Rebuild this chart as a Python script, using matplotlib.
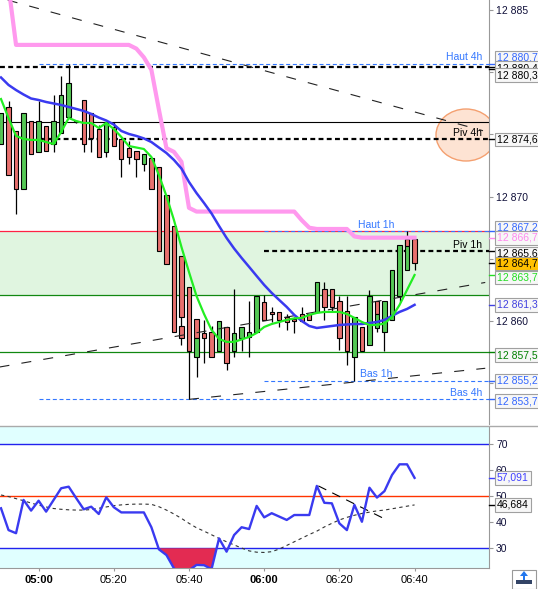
import numpy as np
import matplotlib
matplotlib.use("Agg")
from matplotlib import pyplot as plt
from matplotlib.patches import Rectangle, Ellipse, Polygon
from matplotlib.lines import Line2D

plt.rcParams['font.family'] = ['Liberation Sans', 'DejaVu Sans']

#========== Data ==========#
# 2 minute bars, index 0 = 04:50 ... index 55 = 06:40
opens = [12874.2, 12877.2, 12875.3, 12870.6, 12876.1, 12873.6, 12875.7, 12874.2, 12875.1, 12876.4,
         12876.1, 12877.8, 12876.7, 12875.4, 12873.6, 12875.6, 12874.6, 12873.9, 12873.7, 12872.6,
         12873.1, 12872.4, 12870.1, 12867.6, 12865.2, 12862.7, 12860.2, 12859.0, 12859.1, 12857.6,
         12859.5, 12857.6, 12858.6, 12858.7, 12859.1, 12861.5, 12860.7, 12860.7, 12860.3, 12860.2,
         12860.6, 12860.6, 12860.7, 12862.6, 12862.6, 12861.6, 12860.8, 12857.1, 12859.5, 12858.1,
         12861.6, 12859.1, 12860.1, 12862.0, 12864.1, 12866.6]
closes = [12876.7, 12871.7, 12870.6, 12876.7, 12873.4, 12876.1, 12873.7, 12876.1, 12878.2, 12879.1,
          12876.0, 12874.2, 12874.7, 12873.2, 12876.0, 12874.1, 12873.0, 12873.2, 12873.0, 12873.4,
          12870.6, 12865.6, 12864.6, 12859.1, 12860.3, 12857.6, 12858.6, 12858.6, 12857.1, 12860.0,
          12856.6, 12859.0, 12859.5, 12859.1, 12862.0, 12860.1, 12860.6, 12860.1, 12859.9, 12860.0,
          12860.0, 12860.1, 12863.1, 12861.1, 12861.1, 12858.6, 12857.6, 12860.3, 12857.6, 12862.0,
          12860.6, 12861.6, 12864.1, 12866.1, 12866.6, 12864.7]
highs = [12876.7, 12877.7, 12875.3, 12876.7, 12876.1, 12877.7, 12875.7, 12878.2, 12879.7, 12880.7,
         12876.2, 12877.8, 12876.7, 12875.8, 12876.0, 12876.0, 12874.6, 12874.5, 12873.7, 12873.4,
         12873.1, 12872.4, 12870.1, 12867.6, 12865.2, 12862.7, 12860.2, 12860.1, 12859.6, 12860.0,
         12859.5, 12862.6, 12859.5, 12861.6, 12862.0, 12862.1, 12861.1, 12860.7, 12860.6, 12860.3,
         12861.1, 12860.6, 12863.1, 12863.1, 12862.6, 12862.0, 12862.0, 12860.3, 12859.5, 12862.5,
         12861.6, 12861.6, 12864.1, 12866.1, 12867.2, 12866.6]
lows = [12874.2, 12871.7, 12868.6, 12870.6, 12873.4, 12873.6, 12873.7, 12873.6, 12875.1, 12876.4,
        12875.9, 12873.6, 12873.6, 12873.2, 12873.2, 12874.1, 12871.6, 12872.6, 12871.6, 12872.1,
        12870.6, 12865.6, 12864.6, 12859.1, 12858.1, 12853.7, 12855.5, 12856.6, 12857.1, 12857.6,
        12856.1, 12857.1, 12857.6, 12857.1, 12859.1, 12860.1, 12859.9, 12859.5, 12859.3, 12859.0,
        12860.0, 12860.1, 12860.7, 12860.1, 12860.7, 12857.7, 12856.5, 12855.2, 12857.6, 12858.1,
        12859.1, 12857.6, 12860.1, 12861.5, 12864.1, 12864.1]

# second (overlapping) bodies seen on a few bars
ghost_idx = [24, 26, 50, 54]
ghost_open = [12859.6, 12857.1, 12859.4, 12866.6]
ghost_close = [12858.6, 12858.6, 12860.6, 12866.0]

ma_blue = [12879.58, 12878.98, 12878.57, 12878.21, 12877.89, 12877.77, 12877.61, 12877.49, 12877.37, 12877.21,
           12877.05, 12876.89, 12876.65, 12876.36, 12876.12, 12875.80, 12875.28, 12875.04, 12874.88, 12874.68,
           12874.39, 12873.95, 12873.51, 12872.95, 12872.26, 12871.18, 12870.29, 12869.49, 12868.65, 12867.64,
           12866.68, 12865.83, 12865.07, 12864.35, 12863.62, 12862.90, 12862.26, 12861.69, 12861.13, 12860.49,
           12860.00, 12859.60, 12859.44, 12859.52, 12859.60, 12859.68, 12859.72, 12859.76, 12859.76, 12859.84,
           12859.92, 12860.09, 12860.41, 12860.73, 12860.97, 12861.30]
ma_green = [12877.85, 12876.32, 12874.88, 12874.64, 12874.56, 12874.56, 12874.39, 12874.23, 12875.20, 12876.32,
            12876.08, 12875.92, 12875.92, 12875.52, 12875.92, 12875.44, 12874.80, 12874.07, 12873.95, 12873.83,
            12873.19, 12871.74, 12870.05, 12868.12, 12865.95, 12863.94, 12862.01, 12860.57, 12859.28, 12858.56,
            12858.32, 12858.32, 12858.52, 12858.72, 12859.04, 12859.52, 12859.76, 12859.92, 12860.09, 12860.21,
            12860.25, 12860.49, 12860.65, 12860.73, 12860.73, 12860.73, 12860.57, 12860.25, 12859.92, 12859.68,
            12859.68, 12859.80, 12860.33, 12861.29, 12862.50, 12863.70]
pink_line = [12887.5, 12886.9, 12882.2, 12882.2, 12882.2, 12882.2, 12882.2, 12882.2, 12882.2, 12882.2,
             12882.2, 12882.2, 12882.2, 12882.2, 12882.2, 12882.2, 12882.2, 12882.2, 12881.9, 12881.2,
             12880.2, 12877.0, 12873.9, 12873.6, 12872.8, 12869.1, 12868.8, 12868.8, 12868.8, 12868.8,
             12868.8, 12868.8, 12868.8, 12868.8, 12868.8, 12868.8, 12868.8, 12868.8, 12868.8, 12868.8,
             12868.1, 12867.5, 12867.4, 12867.4, 12867.4, 12867.4, 12867.4, 12866.8, 12866.7, 12866.7,
             12866.7, 12866.7, 12866.7, 12866.7, 12866.7, 12866.7]

# levels
haut_4h, piv_4h, bas_4h = 12880.7, 12874.6, 12853.7
haut_1h, piv_1h, bas_1h = 12867.2, 12865.6, 12855.2
black_dash = 12880.4
black_line = 12876.0
zone_top, zone_bottom = 12867.2, 12862.1
green_line = 12857.5
start_4h, start_1h = 5, 35

# trend lines (bar index, price)
res_x, res_y = [0.9, 64.1], [12885.8, 12875.3]
sup1_x, sup1_y = [-0.2, 64.4], [12856.3, 12863.1]
sup2_x, sup2_y = [25, 64.4], [12853.7, 12856.2]

rsi = [45.4, 37.0, 35.8, 48.6, 44.5, 48.3, 44.1, 48.6, 53.1, 53.7,
       49.3, 45.0, 46.0, 43.2, 49.6, 45.8, 43.8, 43.8, 43.8, 43.8,
       38.1, 29.6, 27.4, 22.3, 20.0, 21.5, 23.6, 23.5, 22.0, 33.8,
       28.7, 35.1, 38.1, 37.4, 46.3, 41.9, 43.5, 42.2, 40.9, 42.8,
       42.8, 42.8, 54.0, 47.5, 47.3, 39.6, 37.0, 46.7, 40.2, 53.3,
       49.5, 52.0, 58.2, 62.3, 62.3, 57.091]
rsi_ma = [50.5, 49.9, 49.1, 48.3, 47.4, 46.6, 45.9, 45.3, 45.0, 44.8,
          44.7, 44.7, 44.9, 45.4, 45.9, 46.4, 46.7, 46.9, 47.0, 47.0,
          46.9, 46.0, 44.7, 43.2, 41.5, 39.6, 37.9, 36.6, 35.2, 33.8,
          32.5, 31.3, 30.1, 29.0, 28.5, 28.4, 28.7, 29.7, 31.1, 32.5,
          33.9, 35.3, 36.6, 38.2, 39.6, 40.9, 41.9, 42.7, 43.4, 43.9,
          44.4, 44.7, 45.2, 45.7, 46.2, 46.684]
rsi_trend_x, rsi_trend_y = [42.2, 51.3], [54.0, 40.9]

tick_idx = [5, 15, 25, 35, 45, 55]
tick_lab = ['05:00', '05:20', '05:40', '06:00', '06:20', '06:40']
price_ticks = [12855, 12860, 12865, 12870, 12875, 12880, 12885]
price_shown = [12860, 12870, 12885]  # the others sit under the value boxes

side_vals = [12880.7, 12880.4, 12880.3, 12874.6, 12867.2, 12866.7, 12865.6,
             12864.7, 12863.7, 12861.3, 12857.5, 12855.2, 12853.7]
side_cols = ['#3366ff', 'black', 'black', 'black', '#3366ff', '#ff88ee', 'black',
             'black', '#22dd22', '#4040e0', '#008000', '#3366ff', '#3366ff']
side_shift = [-6, 1, 6.5, 0, -4, 0, 2.5, 1, 2.5, 0, 3, 0, 2]  # px, down = +
rsi_side_vals = [57.091, 46.684]
rsi_side_cols = ['#4040ff', 'black']

#========== Figure ==========#
W, H = 538, 589
fig = plt.figure(figsize=(W / 100, H / 100), dpi=100)
ax = fig.add_axes([0, 1 - 424 / H, 489 / W, 424 / H])
ax2 = fig.add_axes([0, 21 / H, 489 / W, 142 / H])
XL = (-0.133, 64.9)
x = np.arange(len(opens))

# zone + levels
ax.axhspan(zone_bottom, zone_top, color='#e0f5e0', lw=0, zorder=0.5)
ax.add_patch(Ellipse((466 / 489, 1 - 135 / 424), 60 / 489, 52 / 424, transform=ax.transAxes,
                     fc='#fde3d3', ec='#f4a070', lw=1, zorder=1))
ax.axhline(zone_top, color='#ff2244', lw=0.9, zorder=2)
ax.axhline(zone_bottom, color='#118811', lw=0.9, zorder=2)
ax.axhline(green_line, color='#118811', lw=0.9, zorder=2)
ax.axhline(black_line, color='black', lw=0.8, zorder=2)
ax.plot([XL[0], 70], [black_dash, black_dash], color='black', lw=1.6, dashes=(2.2, 1.5), zorder=2)
ax.plot([start_4h, 70], [piv_4h, piv_4h], color='black', lw=1.6, dashes=(2.2, 1.5), zorder=2)
ax.plot([start_1h, 70], [piv_1h, piv_1h], color='black', lw=1.6, dashes=(2.2, 1.5), zorder=2)
for lvl, st in [(haut_4h, start_4h), (bas_4h, start_4h), (haut_1h, start_1h), (bas_1h, start_1h)]:
    ax.plot([st, 70], [lvl, lvl], color='#3377ff', lw=0.8, dashes=(3.6, 2.4), zorder=2.1)

# candles
o = np.array(opens); c = np.array(closes)
cols = np.where(c >= o, '#55c855', '#e8706e')
body = np.where(np.abs(c - o) < 0.05, 0.05, c - o)
ax.vlines(x, lows, highs, color='black', lw=0.9, zorder=3)
ax.bar(x, body, bottom=o, width=0.58, color=cols, edgecolor='black', linewidth=0.8, zorder=3.2)
go = np.array(ghost_open); gc = np.array(ghost_close)
ax.bar(ghost_idx, gc - go, bottom=go, width=0.58, color=np.where(gc >= go, '#55c855', '#e8706e'),
       edgecolor='black', linewidth=0.8, zorder=3.3)

# trend lines
for tx, ty in [(res_x, res_y), (sup1_x, sup1_y), (sup2_x, sup2_y)]:
    ax.plot(tx, ty, color='#222222', lw=0.8, dashes=(9, 11), zorder=3.5)

# averages
ax.plot(x, pink_line, color='#ff99ee', lw=3, zorder=4, solid_joinstyle='round')
ax.plot(x, ma_blue, color='#3a3af0', lw=1.8, zorder=4.2)
ax.plot(x, ma_green, color='#22ee22', lw=1.6, zorder=4.3)

# level names
kw = dict(fontsize=7.5, va='bottom', zorder=6)
ax.text(64.0, haut_4h + 0.1, 'Haut 4h', color='#3377ff', ha='right', **kw)
ax.text(64.0, piv_4h + 0.1, 'Piv 4h', color='black', ha='right', **kw)
ax.text(49.9, haut_1h + 0.1, 'Haut 1h', color='#3377ff', ha='center', **kw)
ax.text(64.0, piv_1h + 0.1, 'Piv 1h', color='black', ha='right', **kw)
ax.text(49.9, bas_1h + 0.1, 'Bas 1h', color='#3377ff', ha='center', **kw)
ax.text(64.0, bas_4h + 0.1, 'Bas 4h', color='#3377ff', ha='right', **kw)

ax.set_xlim(XL)
ax.set_ylim(12851.72, 12885.81)
ax.set_xticks([])
ax.set_yticks(price_ticks)
ax.set_yticklabels(['{:,}'.format(p).replace(',', ' ') if p in price_shown else '' for p in price_ticks])

#========== RSI ==========#
r = np.array(rsi)
ax2.axhspan(70, 100, color='#e0ffff', lw=0, zorder=0)
ax2.axhspan(0, 30, color='#e0ffff', lw=0, zorder=0)
ax2.axhline(70, color='#2222ee', lw=1, zorder=1)
ax2.axhline(30, color='#2222ee', lw=1, zorder=1)
ax2.axhline(50, color='#ff3300', lw=1, zorder=1)
ax2.fill_between(x, r, 30, where=r < 30, interpolate=True, color='#e32b52', lw=0, zorder=2)
ax2.plot(x, rsi_ma, color='#333333', lw=0.8, dashes=(3, 3), zorder=3)
ax2.plot(rsi_trend_x, rsi_trend_y, color='black', lw=0.8, dashes=(8, 6), zorder=3)
ax2.plot(x, r, color='#3a3af0', lw=1.7, zorder=4)
ax2.set_xlim(XL)
ax2.set_ylim(22.42, 77.04)
ax2.set_yticks([30, 40, 50, 60, 70])
ax2.set_xticks(tick_idx)
ax2.set_xticklabels(tick_lab)
for t in ax2.get_xticklabels():
    if t.get_text().endswith(':00'):
        t.set_fontweight('bold')
ax2.tick_params(axis='x', length=2.2, width=0.8, color='#999999', labelsize=8, pad=2.5)

for a in (ax, ax2):
    for s in ['left', 'top', 'bottom']:
        a.spines[s].set_visible(False)
    a.spines['right'].set_color('#999999')
    a.yaxis.tick_right()
    a.tick_params(axis='y', length=3, width=0.8, color='#999999', labelsize=7.5,
                  labelcolor='#10103a', pad=2)
ax2.spines['bottom'].set_visible(True)
ax2.spines['bottom'].set_color('#999999')


def side_label(a, val, txt, col, dy=0, face='#f7f7f7'):
    tr = a.get_yaxis_transform()
    a.plot([1, 1 + 5 / 489], [val, val], transform=tr, color=col, lw=1, clip_on=False, zorder=19)
    a.annotate(txt, xy=(1, val), xycoords=tr, xytext=(8, -dy), textcoords='offset pixels',
               ha='left', va='center', fontsize=7.5, color=col, annotation_clip=False, zorder=20,
               bbox=dict(boxstyle='square,pad=0.18', fc=face, ec='#a0a0a0', lw=0.8))


for v, col, dy in zip(side_vals, side_cols, side_shift):
    txt = '{:,.1f}'.format(v).replace(',', ' ').replace('.', ',')
    side_label(ax, v, txt, col, dy, '#ffc000' if v == closes[-1] else '#f7f7f7')
for v, col in zip(rsi_side_vals, rsi_side_cols):
    side_label(ax2, v, '{:.3f}'.format(v).replace('.', ','), col)

# frame bits
fig.add_artist(Line2D([0, 1], [1 - 425.5 / H] * 2, color='#aaaaaa', lw=1, transform=fig.transFigure))
fig.add_artist(Rectangle((512 / W, 1 - 588.5 / H), 24 / W, 19 / H, transform=fig.transFigure,
                         fc='white', ec='#999999', lw=0.8))
fig.add_artist(Rectangle((516 / W, 1 - 584 / H), 16 / W, 4 / H, transform=fig.transFigure,
                         fc='#334466', ec='none'))
fig.add_artist(Polygon([[520 / W, 1 - 576 / H], [524 / W, 1 - 571 / H], [528 / W, 1 - 576 / H]],
                       closed=True, transform=fig.transFigure, fc='#2277ee', ec='none'))
fig.add_artist(Rectangle((522.8 / W, 1 - 580 / H), 2.4 / W, 5 / H, transform=fig.transFigure,
                         fc='#2277ee', ec='none'))

fig.savefig('out.png', dpi=100)
